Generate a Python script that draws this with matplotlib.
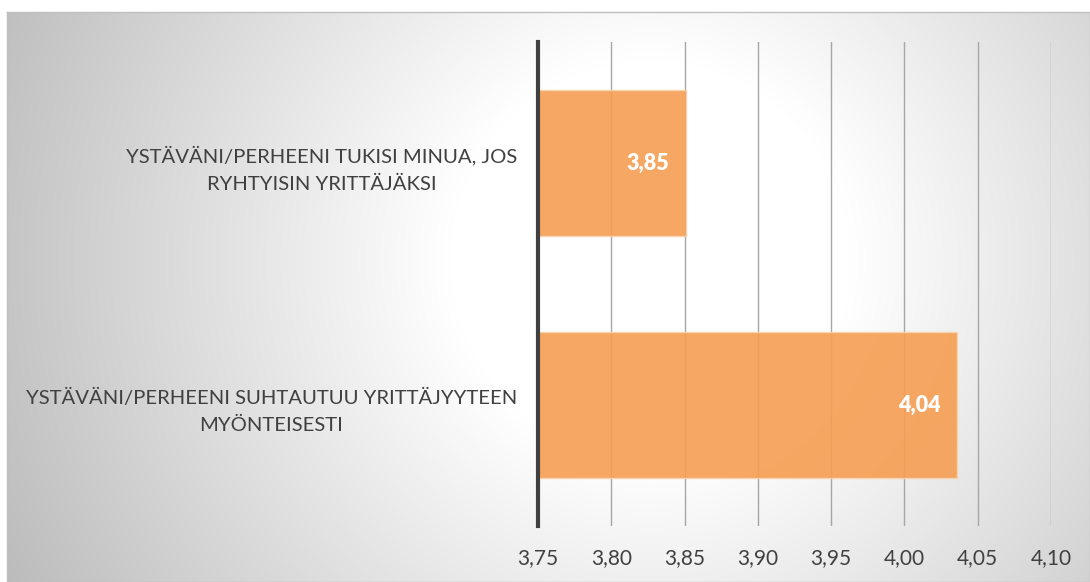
import numpy as np
import matplotlib
matplotlib.use("Agg")
import matplotlib.pyplot as plt

# ====== データ ======
categories = [
    "YSTÄVÄNI/PERHEENI TUKISI MINUA, JOS\nRYHTYISIN YRITTÄJÄKSI",
    "YSTÄVÄNI/PERHEENI SUHTAUTUU YRITTÄJYYTEEN\nMYÖNTEISESTI",
]
values = [3.851, 4.036]
value_labels = ["3,85", "4,04"]
x_ticks = [3.75, 3.80, 3.85, 3.90, 3.95, 4.00, 4.05, 4.10]
x_ticklabels = ["3,75", "3,80", "3,85", "3,90", "3,95", "4,00", "4,05", "4,10"]

plt.rcParams["font.family"] = ["Lato", "DejaVu Sans"]

W, H = 1090, 582
fig = plt.figure(figsize=(W / 100, H / 100), dpi=100)

# ====== 背景（放射グラデーション） ======
bg = fig.add_axes([7 / W, 0, 1 - 7 / W, 1 - 12 / H], zorder=0)
yy, xx = np.mgrid[12:H, 7:W]
d = np.hypot(xx - 650, yy - 260)
g = np.clip(255 - np.maximum(0, d - 200) * 0.13, 185, 255) / 255
bg.imshow(np.dstack([g, g, g]), aspect="auto", extent=[0, 1, 0, 1])
bg.set_xticks([])
bg.set_yticks([])
for s in bg.spines.values():
    s.set_color("#bfbfbf")
    s.set_linewidth(1)

# ====== グラフ ======
ax = fig.add_axes([538 / W, 1 - 526 / H, (1051 - 538) / W, (526 - 42) / H], zorder=1)
ax.patch.set_alpha(0)
y = np.arange(len(categories))
ax.barh(y, np.array(values) - 3.75, left=3.75, height=0.6, color="#F59E52",
        alpha=0.9, edgecolor="#fbd3b0", linewidth=1, zorder=3)
for yi, v, lab in zip(y, values, value_labels):
    ax.annotate(lab, (v, yi), xytext=(-12, 0), textcoords="offset points",
                ha="right", va="center", color="white", fontsize=15.5,
                fontweight="heavy", zorder=4)

ax.set_xlim(3.75, 4.10)
ax.set_ylim(len(categories) - 0.5, -0.5)
ax.set_xticks(x_ticks)
ax.set_xticklabels(x_ticklabels, fontsize=15, color="#404040")
ax.set_yticks(y)
ax.set_yticklabels(categories, fontsize=14.6, color="#404040", ma="center",
                   linespacing=1.7)
ax.tick_params(axis="y", length=0, pad=15)
ax.tick_params(axis="x", length=0, pad=16)
ax.grid(axis="x", color="#a6a6a6", linewidth=1, zorder=1)
ax.set_axisbelow(True)
for k in ["top", "right", "bottom"]:
    ax.spines[k].set_visible(False)
ax.spines["left"].set_color("#404040")
ax.spines["left"].set_linewidth(3)
ax.spines["left"].set_zorder(5)

fig.savefig("out.png", dpi=100)
